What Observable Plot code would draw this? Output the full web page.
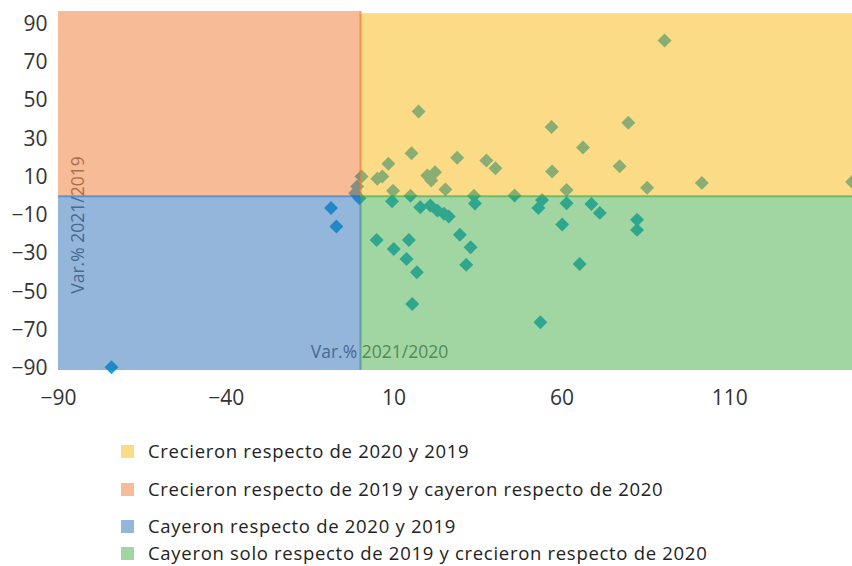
<!DOCTYPE html>
<html><head><meta charset="utf-8">
<script src="https://cdn.jsdelivr.net/npm/d3@7"></script>
<script src="https://cdn.jsdelivr.net/npm/@observablehq/plot@0.6"></script>
<style>
body{margin:0;background:#fff;font-family:"Open Sans",sans-serif;}
#chart svg{display:block}
.legend{position:relative;height:141px;overflow:hidden;}
.item{position:absolute;left:121px;display:flex;align-items:center;font-size:18.5px;letter-spacing:0.7px;color:#222;line-height:24px;white-space:nowrap;}
.sw{width:13px;height:13px;margin-right:14px;}
</style></head><body>
<div id="chart"></div>
<div class="legend" id="legend"></div>
<script>
// Data (Var.% 2021/2020 on x, Var.% 2021/2019 on y)
const xValues = [17.3,15.2,8.3,28.8,0.3,5.0,6.5,19.9,22.2,21.1,25.3,9.7,56.9,79.8,66.3,37.5,40.2,77.2,57.1,85.4,61.4,90.6,101.7,146.5,33.8,45.9,14.9,
  -1.0,-1.6,-0.3,
  9.4,34.1,17.8,20.8,22.9,24.9,26.3,4.8,9.9,14.4,13.7,16.8,15.4,29.6,32.8,31.5,54.1,53.0,61.4,68.8,71.3,82.4,82.4,60.1,65.3,53.6,
  -8.8,-7.2,-74.2];
const yValues = [44.4,22.5,17.0,20.1,10.4,9.1,10.3,10.9,12.6,8.3,3.6,2.9,36.2,38.5,25.5,18.7,14.7,15.7,13.0,4.4,3.3,81.5,7.0,7.5,0.3,0.4,0.3,
  5.1,1.6,-1.0,
  -2.6,-3.8,-5.8,-4.9,-7.5,-9.2,-10.6,-22.9,-27.6,-22.9,-32.8,-39.8,-56.4,-20.1,-26.7,-35.8,-1.9,-6.1,-3.7,-4.0,-8.7,-12.3,-17.6,-14.8,-35.4,-66.0,
  -6.1,-15.8,-89.5];
const xTicks = [-90,-40,10,60,110];
const yTicks = [-90,-70,-50,-30,-10,10,30,50,70,90];
const xTitle = "Var.% 2021/2020";
const yTitle = "Var.% 2021/2019";
const legendLabels = [
  "Crecieron respecto de 2020 y 2019",
  "Crecieron respecto de 2019 y cayeron respecto de 2020",
  "Cayeron respecto de 2020 y 2019",
  "Cayeron solo respecto de 2019 y crecieron respecto de 2020"
];
const legendColors = ["#f9b70d","#ef7731","#296db7","#43ab43"];

const points = xValues.map((x,i)=>({x, y:yValues[i]}));
const X_MIN=-90, X_MAX=146.6, Y_MIN=-91.2, Y_MAX=96.7, Y_TOP_RIGHT=95.6;
const quadrants = [
  {x1:0, x2:X_MAX, y1:0, y2:Y_TOP_RIGHT, c:legendColors[0]},
  {x1:X_MIN, x2:0, y1:0, y2:Y_MAX, c:legendColors[1]},
  {x1:X_MIN, x2:0, y1:Y_MIN, y2:0, c:legendColors[2]},
  {x1:0, x2:X_MAX, y1:Y_MIN, y2:0, c:legendColors[3]}
];
const fmt = d => (d<0 ? "\u2212" : "") + Math.abs(d);

const W=852, H=425;
const chart = Plot.plot({
  width:W, height:H,
  marginLeft:58, marginRight:0, marginTop:11, marginBottom:H-370,
  style:{fontFamily:"'Open Sans', sans-serif", fontSize:"21px", color:"#333", background:"#fff"},
  x:{domain:[X_MIN,X_MAX], ticks:xTicks, tickFormat:fmt, tickSize:0, tickPadding:20, label:null},
  y:{domain:[Y_MIN,Y_MAX], ticks:yTicks, tickFormat:fmt, tickSize:0, tickPadding:11, label:null},
  marks:[
    Plot.dot(points,{x:"x", y:"y", symbol:"diamond2", r:6.3, fill:"#1ba3d9", stroke:"none"}),
    Plot.text([yTitle],{frameAnchor:"left", dx:20, dy:34, rotate:-90, fill:"#666", fontSize:17.5, textAnchor:"middle", lineAnchor:"middle"}),
    Plot.text([xTitle],{frameAnchor:"bottom", dx:-76, dy:-18, fill:"#666", fontSize:17.5, textAnchor:"middle", lineAnchor:"middle"}),
    Plot.rect(quadrants,{x1:"x1", x2:"x2", y1:"y1", y2:"y2", fill:"c", fillOpacity:0.5}),
    Plot.ruleX([0],{y1:0, y2:Y_MAX, stroke:legendColors[1], strokeOpacity:0.7, strokeWidth:2}),
    Plot.ruleX([0],{y1:Y_MIN, y2:0, stroke:"#3a7fa0", strokeOpacity:0.6, strokeWidth:2}),
    Plot.ruleY([0],{x1:X_MIN, x2:0, stroke:legendColors[2], strokeOpacity:0.5, strokeWidth:2}),
    Plot.ruleY([0],{x1:0, x2:X_MAX, stroke:legendColors[3], strokeOpacity:0.6, strokeWidth:2})
  ]
});
document.getElementById("chart").appendChild(chart);

const legendTops = [14, 52, 89, 116];
const leg = document.getElementById("legend");
legendLabels.forEach((t,i)=>{
  const it = document.createElement("div");
  it.className="item"; it.style.top = legendTops[i]+"px";
  const sw = document.createElement("div");
  sw.className="sw"; sw.style.background = legendColors[i]; sw.style.opacity = 0.5;
  const tx = document.createElement("span"); tx.textContent = t;
  it.appendChild(sw); it.appendChild(tx); leg.appendChild(it);
});
</script></body></html>
